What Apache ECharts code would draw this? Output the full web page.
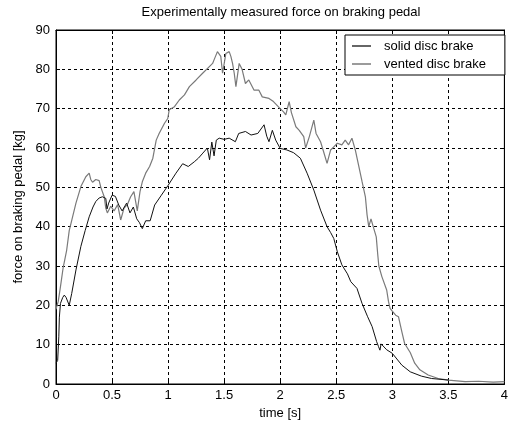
<!DOCTYPE html>
<html>
<head>
<meta charset="utf-8">
<title>Braking pedal force</title>
<script src="https://cdn.jsdelivr.net/npm/echarts@6/dist/echarts.min.js"></script>
<style>
  html, body { margin: 0; padding: 0; background: #fff; }
  #chart { width: 511px; height: 427px; }
</style>
</head>
<body>
<div id="chart"></div>
<script>
// Axis ticks
const timeTicks = [0, 0.5, 1, 1.5, 2, 2.5, 3, 3.5, 4];
const forceTicks = [0, 10, 20, 30, 40, 50, 60, 70, 80, 90];

const seriesNames = ['solid disc brake', 'vented disc brake'];

// Measured pedal force [kg] against time [s]
const solidDisc = [
  [0, 5.3], [0.015, 6], [0.025, 12], [0.03, 17], [0.04, 20.5], [0.06, 22], [0.074, 22.6],
  [0.09, 22], [0.1, 21.5], [0.118, 20], [0.14, 23], [0.178, 29], [0.222, 35], [0.26, 39],
  [0.296, 42.5], [0.33, 45], [0.355, 46.4], [0.385, 47.3], [0.414, 47.6], [0.444, 47.2],
  [0.455, 44.5], [0.47, 46], [0.5, 48], [0.53, 47.7], [0.56, 45.5], [0.59, 44], [0.63, 46],
  [0.66, 43.5], [0.69, 45], [0.72, 42], [0.745, 41], [0.77, 39.5], [0.8, 41.5], [0.84, 41.5],
  [0.88, 45.5], [0.94, 48], [1.0, 50.5], [1.07, 53.6], [1.13, 56], [1.18, 55.3], [1.234, 56.5],
  [1.27, 57.4], [1.31, 58.7], [1.35, 60], [1.37, 57], [1.39, 61.5], [1.41, 58], [1.43, 62],
  [1.456, 62.5], [1.5, 62.2], [1.545, 62.5], [1.6, 61.6], [1.63, 63.7], [1.69, 64.2],
  [1.74, 63.3], [1.8, 63.7], [1.856, 65.9], [1.88, 63], [1.9, 61.6], [1.93, 64.5], [1.96, 62],
  [2.0, 59.9], [2.06, 59.5], [2.12, 58.8], [2.18, 57.4], [2.24, 53.6], [2.3, 49.3], [2.36, 44.2],
  [2.418, 40], [2.45, 38.5], [2.478, 37], [2.51, 33.6], [2.55, 30.3], [2.567, 29.5], [2.6, 28],
  [2.63, 26], [2.685, 24.3], [2.73, 20.5], [2.78, 17.1], [2.82, 14.6], [2.86, 10.8],
  [2.877, 9.5], [2.89, 8.6], [2.9, 10.2], [2.95, 8.7], [3.0, 7.8], [3.085, 4.8], [3.16, 3.1],
  [3.26, 2.0], [3.35, 1.4], [3.5, 1.0]
];

const ventedDisc = [
  [0, 19], [0.02, 21], [0.036, 24], [0.044, 25.6], [0.065, 29.8], [0.074, 31], [0.095, 34],
  [0.118, 39], [0.124, 39], [0.148, 42.5], [0.178, 46], [0.222, 50.2], [0.266, 52.7],
  [0.296, 53.6], [0.31, 52], [0.326, 51.3], [0.355, 52], [0.385, 51.7], [0.4, 50], [0.43, 47.6],
  [0.444, 44.7], [0.458, 43.5], [0.488, 45.2], [0.518, 44], [0.55, 45.6], [0.577, 41.7],
  [0.607, 44.7], [0.636, 45.6], [0.666, 47.6], [0.695, 48.9], [0.725, 44], [0.75, 49],
  [0.77, 51.4], [0.8, 53.6], [0.835, 55.3], [0.864, 57.4], [0.894, 62], [0.92, 63.7],
  [0.968, 66.3], [0.997, 67.5], [1.01, 69.7], [1.057, 70.5], [1.1, 72.2], [1.146, 73.5],
  [1.19, 75.6], [1.25, 77.3], [1.308, 79], [1.368, 80.7], [1.397, 81.5], [1.41, 82.4],
  [1.44, 84.5], [1.456, 84.9], [1.47, 83.3], [1.486, 79], [1.515, 84], [1.53, 84.5],
  [1.545, 84.5], [1.56, 83.3], [1.575, 81.5], [1.59, 79], [1.605, 75.6], [1.62, 75.2],
  [1.634, 81.5], [1.66, 80], [1.69, 76.4], [1.72, 77.3], [1.767, 74.7], [1.81, 74.7],
  [1.84, 73], [1.9, 72.6], [1.94, 71.8], [2.0, 70], [2.03, 69.2], [2.05, 68.4], [2.08, 71.8],
  [2.1, 69], [2.14, 65.4], [2.17, 64.5], [2.21, 62.9], [2.227, 60], [2.26, 62.9], [2.3, 67.1],
  [2.32, 63.7], [2.36, 61.6], [2.39, 58.8], [2.418, 56.1], [2.45, 59.5], [2.478, 60.3],
  [2.51, 61.2], [2.55, 60.8], [2.58, 62], [2.61, 60.8], [2.64, 62.5], [2.67, 59.5], [2.7, 55.5],
  [2.73, 51.5], [2.76, 47.6], [2.775, 43], [2.79, 40], [2.81, 42], [2.83, 40], [2.857, 37.4],
  [2.87, 33], [2.88, 30], [2.907, 27.3], [2.95, 23.9], [2.966, 21], [2.98, 19.2], [3.0, 18.5],
  [3.03, 17.5], [3.055, 17.1], [3.085, 13.3], [3.11, 10.3], [3.16, 8], [3.2, 5.3],
  [3.246, 3.6], [3.32, 2.3], [3.41, 1.4], [3.5, 1.0], [3.65, 0.6], [3.77, 0.7], [3.9, 0.5],
  [4.0, 0.6]
];

const FONT = '"Liberation Sans", Arial, Helvetica, sans-serif';
const gridLine = { show: true, lineStyle: { color: '#000', width: 1, type: [3, 3] } };

function tickFormatter(ticks) {
  return function (v) {
    const hit = ticks.find(t => Math.abs(t - v) < 1e-9);
    return hit === undefined ? '' : String(hit);
  };
}

function frameAxis(base) {
  // Mirror axis on the top / right edge of the box, ticks only
  return Object.assign({
    type: 'value',
    axisLine: { show: true, onZero: false, lineStyle: { color: '#000', width: 1 } },
    axisTick: { show: true, inside: true, length: 4, lineStyle: { color: '#000' } },
    axisLabel: { show: false },
    splitLine: { show: false }
  }, base);
}

const chart = echarts.init(document.getElementById('chart'), null, { renderer: 'canvas' });

chart.setOption({
  animation: false,
  backgroundColor: '#fff',
  title: {
    text: 'Experimentally measured force on braking pedal',
    left: 281,
    top: 6,
    padding: 0,
    textAlign: 'center',
    textStyle: { fontFamily: FONT, fontSize: 13, fontWeight: 'normal', color: '#000' }
  },
  grid: {
    left: 56, right: 5, top: 30, bottom: 43,
    show: true, borderColor: '#000', borderWidth: 1, backgroundColor: '#fff'
  },
  legend: {
    orient: 'vertical',
    left: 345,
    top: 35,
    padding: [4, 19, 4, 7],
    itemGap: 4,
    itemWidth: 19,
    itemHeight: 1.5,
    icon: 'rect',
    backgroundColor: '#fff',
    borderColor: '#000',
    borderWidth: 1,
    borderRadius: 0,
    textStyle: { fontFamily: FONT, fontSize: 13, color: '#000', lineHeight: 14, padding: [0, 0, 0, 8] },
    data: seriesNames
  },
  xAxis: [
    {
      type: 'value', min: 0, max: 4, interval: 0.5,
      name: 'time [s]', nameLocation: 'middle', nameGap: 21,
      nameTextStyle: { fontFamily: FONT, fontSize: 13, color: '#000' },
      axisLine: { show: true, onZero: false, lineStyle: { color: '#000', width: 1 } },
      axisTick: { show: true, inside: true, length: 4, lineStyle: { color: '#000' } },
      axisLabel: { margin: 5, fontFamily: FONT, fontSize: 13, color: '#000', formatter: tickFormatter(timeTicks) },
      splitLine: gridLine
    },
    frameAxis({ position: 'top', min: 0, max: 4, interval: 0.5 })
  ],
  yAxis: [
    {
      type: 'value', min: 0, max: 90, interval: 10,
      name: 'force on braking pedal [kg]', nameLocation: 'middle', nameGap: 28,
      nameTextStyle: { fontFamily: FONT, fontSize: 13, color: '#000' },
      axisLine: { show: true, onZero: false, lineStyle: { color: '#000', width: 1 } },
      axisTick: { show: true, inside: true, length: 4, lineStyle: { color: '#000' } },
      axisLabel: { margin: 6, fontFamily: FONT, fontSize: 13, color: '#000', formatter: tickFormatter(forceTicks) },
      splitLine: gridLine
    },
    frameAxis({ position: 'right', min: 0, max: 90, interval: 10 })
  ],
  series: [
    {
      name: seriesNames[0],
      type: 'line',
      data: solidDisc,
      xAxisIndex: 0, yAxisIndex: 0,
      symbol: 'none',
      lineStyle: { color: '#111', width: 1 },
      itemStyle: { color: '#333' },
      z: 3
    },
    {
      name: seriesNames[1],
      type: 'line',
      data: ventedDisc,
      xAxisIndex: 0, yAxisIndex: 0,
      symbol: 'none',
      lineStyle: { color: '#7a7a7a', width: 1.2 },
      itemStyle: { color: '#7a7a7a' },
      z: 2
    }
  ]
});
</script>
</body>
</html>
